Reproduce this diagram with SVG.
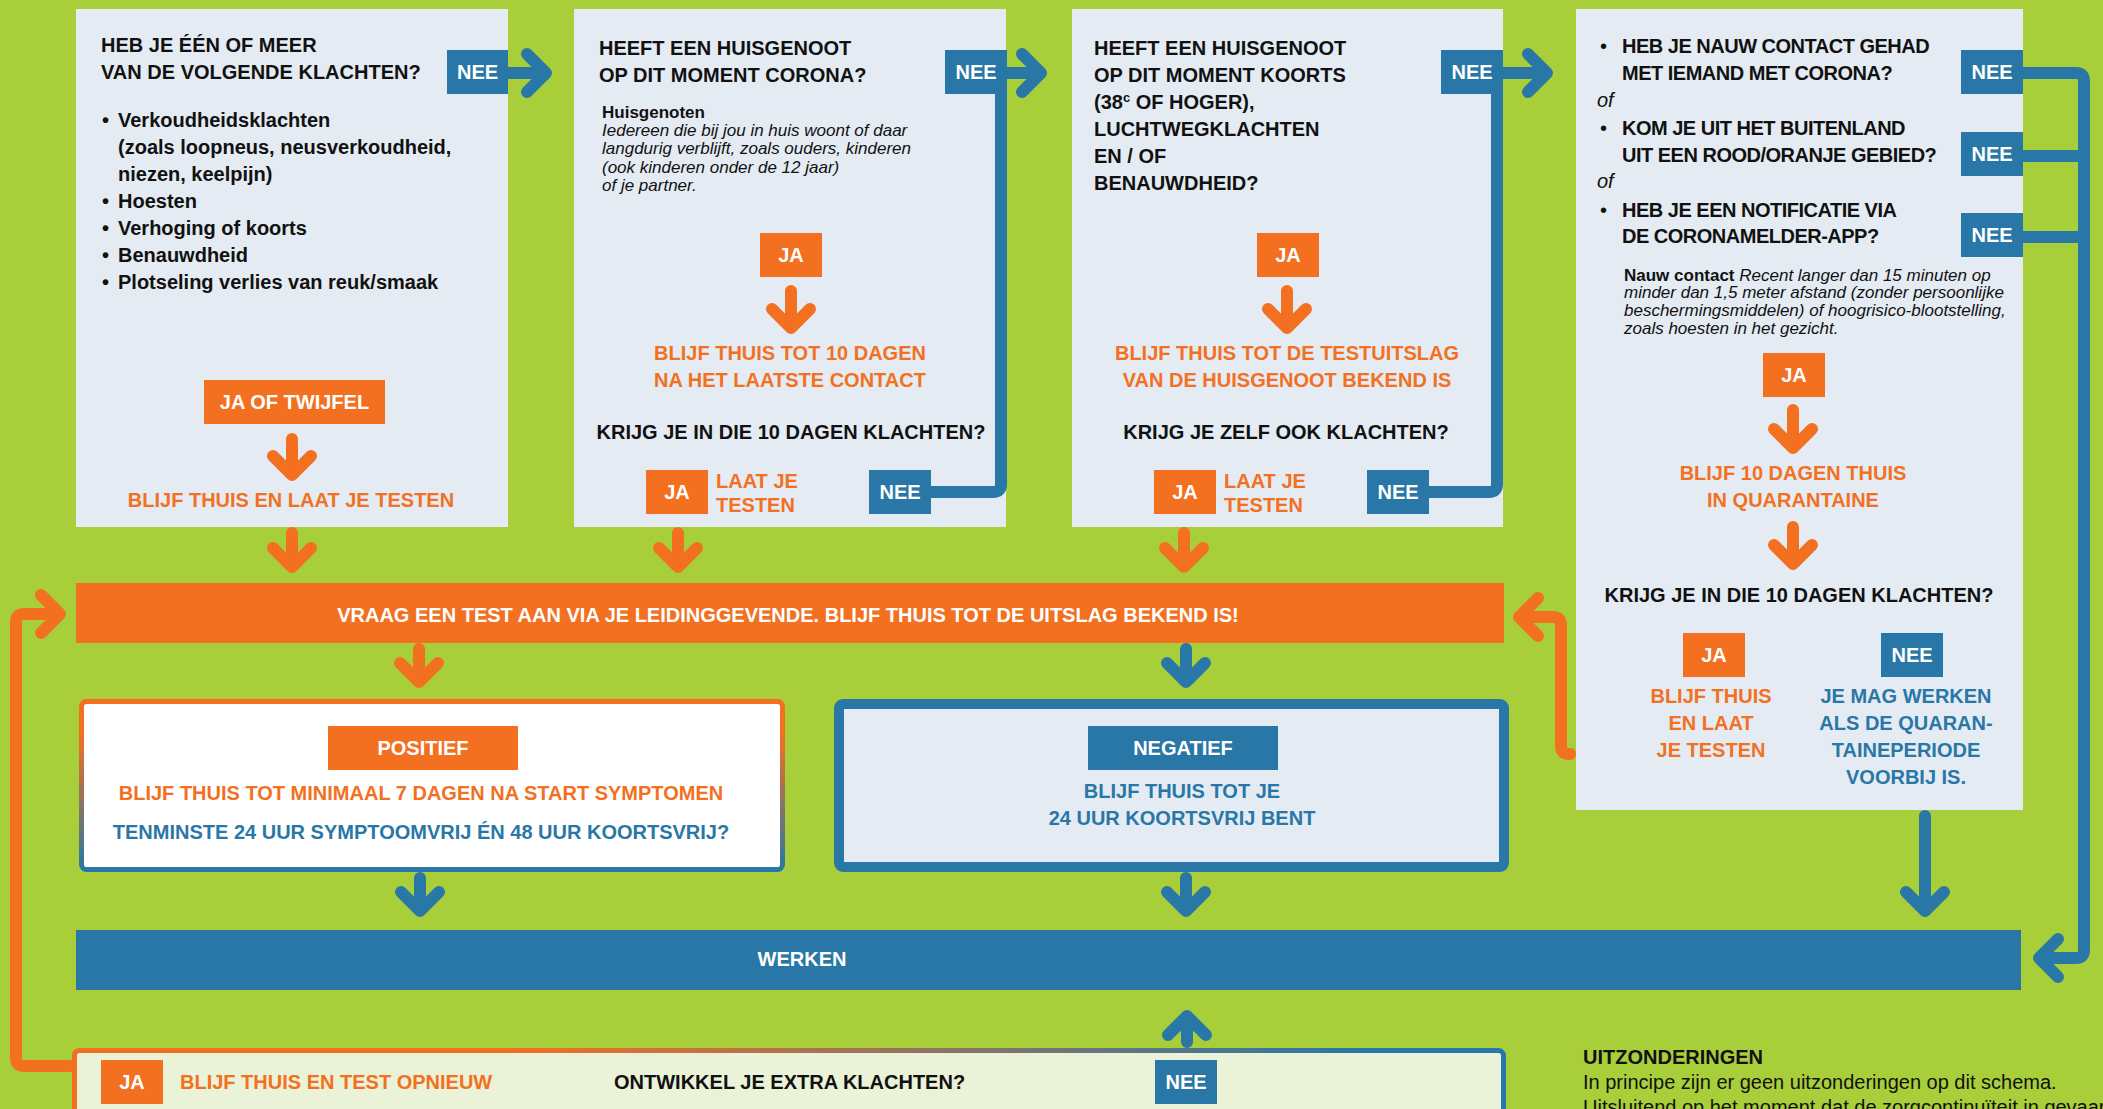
<svg xmlns="http://www.w3.org/2000/svg" width="2103" height="1109" viewBox="0 0 2103 1109">
<defs>
<style>
text{font-family:"Liberation Sans",Arial,Helvetica,sans-serif;font-size:20px;font-weight:bold;fill:#111}
.box{fill:#E4EBF3}
.or{fill:#F37021}
.bl{fill:#2977A6}
.w{fill:#fff}
.m{text-anchor:middle}
.sm{font-size:17px}
.it{font-style:italic;font-weight:normal}
.rg{font-weight:normal}
.tight{letter-spacing:-0.5px}
.co{fill:none;stroke:#F37021;stroke-width:12;stroke-linecap:round;stroke-linejoin:round}
.cb{fill:none;stroke:#2977A6;stroke-width:12;stroke-linecap:round;stroke-linejoin:round}
</style>
<linearGradient id="gPos" x1="0" y1="0" x2="0" y2="1">
<stop offset="0.2" stop-color="#F37021"/>
<stop offset="1" stop-color="#2977A6"/>
</linearGradient>
<linearGradient id="gExtra" x1="0" y1="0" x2="1" y2="0">
<stop offset="0.3" stop-color="#F37021"/>
<stop offset="0.9" stop-color="#2977A6"/>
</linearGradient>
</defs>
<rect width="2103" height="1109" fill="#A8CE3A"/>

<g id="q1">
<rect class="box" x="76" y="9" width="432" height="518"/>
<text x="101" y="52">HEB JE ÉÉN OF MEER</text>
<text x="101" y="79">VAN DE VOLGENDE KLACHTEN?</text>
<text x="102" y="127">•</text><text x="118" y="127">Verkoudheidsklachten</text>
<text x="118" y="154">(zoals loopneus, neusverkoudheid,</text>
<text x="118" y="181">niezen, keelpijn)</text>
<text x="102" y="208">•</text><text x="118" y="208">Hoesten</text>
<text x="102" y="235">•</text><text x="118" y="235">Verhoging of koorts</text>
<text x="102" y="262">•</text><text x="118" y="262">Benauwdheid</text>
<text x="102" y="289">•</text><text x="118" y="289">Plotseling verlies van reuk/smaak</text>
<rect class="bl" x="447" y="50" width="61" height="44"/>
<text class="w m" x="477.5" y="79">NEE</text>
<rect class="or" x="204" y="380" width="181" height="44"/>
<text class="w m" x="294.5" y="409">JA OF TWIJFEL</text>
<text class="or m" x="291" y="507">BLIJF THUIS EN LAAT JE TESTEN</text>
</g>

<g id="q2">
<rect class="box" x="574" y="9" width="432" height="518"/>
<text x="599" y="55">HEEFT EEN HUISGENOOT</text>
<text x="599" y="82">OP DIT MOMENT CORONA?</text>
<text class="sm" x="602" y="118">Huisgenoten</text>
<text class="sm it" x="602" y="136">Iedereen die bij jou in huis woont of daar</text>
<text class="sm it" x="602" y="154">langdurig verblijft, zoals ouders, kinderen</text>
<text class="sm it" x="602" y="173">(ook kinderen onder de 12 jaar)</text>
<text class="sm it" x="602" y="191">of je partner.</text>
<rect class="bl" x="945" y="50" width="62" height="44"/>
<text class="w m" x="976" y="79">NEE</text>
<rect class="or" x="760" y="233" width="62" height="44"/>
<text class="w m" x="791" y="262">JA</text>
<text class="or m" x="790" y="360">BLIJF THUIS TOT 10 DAGEN</text>
<text class="or m" x="790" y="387">NA HET LAATSTE CONTACT</text>
<text class="m" x="791" y="439">KRIJG JE IN DIE 10 DAGEN KLACHTEN?</text>
<rect class="or" x="646" y="470" width="62" height="44"/>
<text class="w m" x="677" y="499">JA</text>
<text class="or" x="716" y="488">LAAT JE</text>
<text class="or" x="716" y="512">TESTEN</text>
<rect class="bl" x="869" y="470" width="62" height="44"/>
<text class="w m" x="900" y="499">NEE</text>
</g>

<g id="q3">
<rect class="box" x="1072" y="9" width="431" height="518"/>
<text x="1094" y="55">HEEFT EEN HUISGENOOT</text>
<text x="1094" y="82">OP DIT MOMENT KOORTS</text>
<text x="1094" y="109">(38<tspan font-size="13" dy="-7">c</tspan><tspan dy="7"> OF HOGER),</tspan></text>
<text x="1094" y="136">LUCHTWEGKLACHTEN</text>
<text x="1094" y="163">EN / OF</text>
<text x="1094" y="190">BENAUWDHEID?</text>
<rect class="bl" x="1441" y="50" width="62" height="44"/>
<text class="w m" x="1472" y="79">NEE</text>
<rect class="or" x="1257" y="233" width="62" height="44"/>
<text class="w m" x="1288" y="262">JA</text>
<text class="or m" x="1287" y="360">BLIJF THUIS TOT DE TESTUITSLAG</text>
<text class="or m" x="1287" y="387">VAN DE HUISGENOOT BEKEND IS</text>
<text class="m" x="1286" y="439">KRIJG JE ZELF OOK KLACHTEN?</text>
<rect class="or" x="1154" y="470" width="62" height="44"/>
<text class="w m" x="1185" y="499">JA</text>
<text class="or" x="1224" y="488">LAAT JE</text>
<text class="or" x="1224" y="512">TESTEN</text>
<rect class="bl" x="1367" y="470" width="62" height="44"/>
<text class="w m" x="1398" y="499">NEE</text>
</g>

<g id="q4">
<rect class="box" x="1576" y="9" width="447" height="801"/>
<text class="rg" x="1600" y="53">•</text>
<text class="tight" x="1622" y="53">HEB JE NAUW CONTACT GEHAD</text>
<text class="tight" x="1622" y="80">MET IEMAND MET CORONA?</text>
<text class="it" x="1597" y="107">of</text>
<text class="rg" x="1600" y="135">•</text>
<text class="tight" x="1622" y="135">KOM JE UIT HET BUITENLAND</text>
<text class="tight" x="1622" y="162">UIT EEN ROOD/ORANJE GEBIED?</text>
<text class="it" x="1597" y="188">of</text>
<text class="rg" x="1600" y="217">•</text>
<text class="tight" x="1622" y="217">HEB JE EEN NOTIFICATIE VIA</text>
<text class="tight" x="1622" y="243">DE CORONAMELDER-APP?</text>
<rect class="bl" x="1961" y="50" width="62" height="44"/>
<text class="w m" x="1992" y="79">NEE</text>
<rect class="bl" x="1961" y="132" width="62" height="44"/>
<text class="w m" x="1992" y="161">NEE</text>
<rect class="bl" x="1961" y="213" width="62" height="44"/>
<text class="w m" x="1992" y="242">NEE</text>
<text class="sm" x="1624" y="281">Nauw contact<tspan class="it"> Recent langer dan 15 minuten op</tspan></text>
<text class="sm it" x="1624" y="298">minder dan 1,5 meter afstand (zonder persoonlijke</text>
<text class="sm it" x="1624" y="316">beschermingsmiddelen) of hoogrisico-blootstelling,</text>
<text class="sm it" x="1624" y="334">zoals hoesten in het gezicht.</text>
<rect class="or" x="1763" y="353" width="62" height="44"/>
<text class="w m" x="1794" y="382">JA</text>
<text class="or m" x="1793" y="480">BLIJF 10 DAGEN THUIS</text>
<text class="or m" x="1793" y="507">IN QUARANTAINE</text>
<text class="m" x="1799" y="602">KRIJG JE IN DIE 10 DAGEN KLACHTEN?</text>
<rect class="or" x="1683" y="633" width="62" height="44"/>
<text class="w m" x="1714" y="662">JA</text>
<rect class="bl" x="1881" y="633" width="62" height="44"/>
<text class="w m" x="1912" y="662">NEE</text>
<text class="or m" x="1711" y="703">BLIJF THUIS</text>
<text class="or m" x="1711" y="730">EN LAAT</text>
<text class="or m" x="1711" y="757">JE TESTEN</text>
<text class="bl m" x="1906" y="703">JE MAG WERKEN</text>
<text class="bl m" x="1906" y="730">ALS DE QUARAN-</text>
<text class="bl m" x="1906" y="757">TAINEPERIODE</text>
<text class="bl m" x="1906" y="784">VOORBIJ IS.</text>
</g>

<g id="test">
<rect class="or" x="76" y="583" width="1428" height="60"/>
<text class="w m" x="788" y="622">VRAAG EEN TEST AAN VIA JE LEIDINGGEVENDE. BLIJF THUIS TOT DE UITSLAG BEKEND IS!</text>
</g>

<g id="positief">
<rect x="81.5" y="701.5" width="701" height="168" rx="5" fill="#fff" stroke="url(#gPos)" stroke-width="5"/>
<rect class="or" x="328" y="726" width="190" height="44"/>
<text class="w m" x="423" y="755">POSITIEF</text>
<text class="or m" x="421" y="800">BLIJF THUIS TOT MINIMAAL 7 DAGEN NA START SYMPTOMEN</text>
<text class="bl m" x="421" y="839">TENMINSTE 24 UUR SYMPTOOMVRIJ ÉN 48 UUR KOORTSVRIJ?</text>
</g>

<g id="negatief">
<rect x="839" y="704" width="665" height="163" rx="4" fill="#E4EBF3" stroke="#2977A6" stroke-width="10"/>
<rect class="bl" x="1088" y="726" width="190" height="44"/>
<text class="w m" x="1183" y="755">NEGATIEF</text>
<text class="bl m" x="1182" y="798">BLIJF THUIS TOT JE</text>
<text class="bl m" x="1182" y="825">24 UUR KOORTSVRIJ BENT</text>
</g>

<g id="werken">
<rect class="bl" x="76" y="930" width="1945" height="60"/>
<text class="w m" x="802" y="966">WERKEN</text>
</g>

<g id="extra">
<rect x="74.5" y="1050.5" width="1429" height="90" rx="5" fill="#EAF2D8" stroke="url(#gExtra)" stroke-width="5"/>
<rect class="or" x="101" y="1060" width="62" height="44"/>
<text class="w m" x="132" y="1089">JA</text>
<text class="or" x="180" y="1089">BLIJF THUIS EN TEST OPNIEUW</text>
<text x="614" y="1089">ONTWIKKEL JE EXTRA KLACHTEN?</text>
<rect class="bl" x="1155" y="1060" width="62" height="44"/>
<text class="w m" x="1186" y="1089">NEE</text>
</g>

<g id="uitzonderingen">
<text x="1583" y="1064">UITZONDERINGEN</text>
<text class="rg" x="1583" y="1089" font-size="20.5">In principe zijn er geen uitzonderingen op dit schema.</text>
<text class="rg" x="1583" y="1114" font-size="20">Uitsluitend op het moment dat de zorgcontinuïteit in gevaar</text>
</g>

<g id="connectors">
<path class="co" d="M292 439V475M273 456L292 475L311 456"/>
<path class="co" d="M791 291V328M772 309L791 328L810 309"/>
<path class="co" d="M1287 291V328M1268 309L1287 328L1306 309"/>
<path class="co" d="M1793 410V448M1774 429L1793 448L1812 429"/>
<path class="co" d="M1793 527V564M1774 545L1793 564L1812 545"/>
<path class="co" d="M292 533V567M273 548L292 567L311 548"/>
<path class="co" d="M678 533V567M659 548L678 567L697 548"/>
<path class="co" d="M1184 533V567M1165 548L1184 567L1203 548"/>
<path class="co" d="M419 649V682M400 663L419 682L438 663"/>
<path class="co" d="M70 1066H24Q16 1066 16 1058V622Q16 614 24 614H60M41 595L60 614L41 633"/>
<path class="co" d="M1570 754H1569Q1561 754 1561 746V625Q1561 617 1553 617H1519M1538 598L1519 617L1538 636"/>
<path class="cb" d="M508 73H546M527 54L546 73L527 92"/>
<path class="cb" d="M1006 73H1041M1022 54L1041 73L1022 92"/>
<path class="cb" d="M931 492H993Q1001 492 1001 484V94"/>
<path class="cb" d="M1503 73H1547M1528 54L1547 73L1528 92"/>
<path class="cb" d="M1429 492H1489Q1497 492 1497 484V94"/>
<path class="cb" d="M2023 73H2076Q2084 73 2084 81V950Q2084 958 2076 958H2039M2058 939L2039 958L2058 977"/>
<path class="cb" d="M2023 156H2084M2023 237H2084"/>
<path class="cb" d="M1186 649V682M1167 663L1186 682L1205 663"/>
<path class="cb" d="M420 878V911M401 892L420 911L439 892"/>
<path class="cb" d="M1186 878V911M1167 892L1186 911L1205 892"/>
<path class="cb" d="M1925 816V911M1906 892L1925 911L1944 892"/>
<path class="cb" d="M1187 1042V1016M1168 1035L1187 1016L1206 1035"/>
</g>
</svg>
